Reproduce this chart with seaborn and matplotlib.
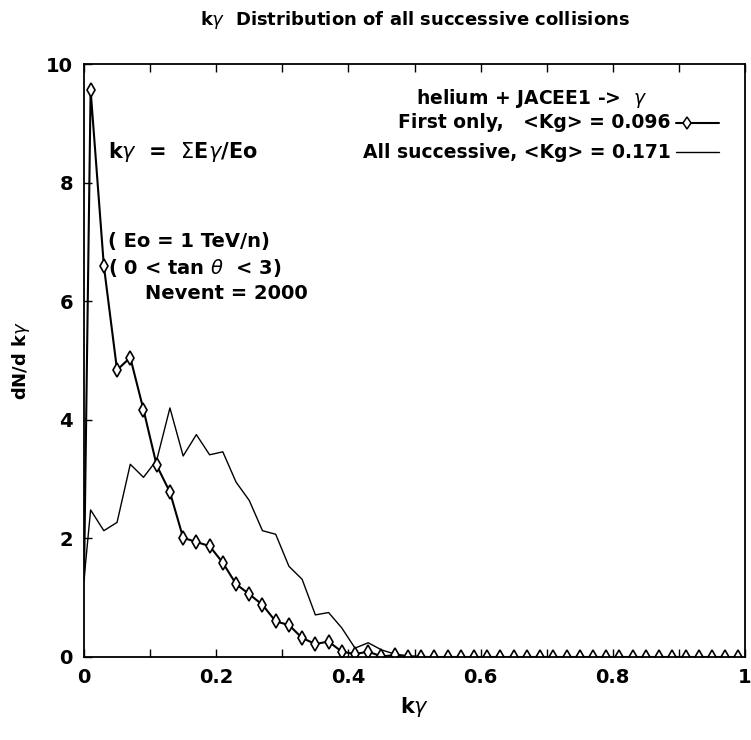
import matplotlib
matplotlib.use("Agg")
import matplotlib.pyplot as plt
import seaborn as sns
import pandas as pd
from matplotlib.ticker import MultipleLocator

# ---- data ----
k_gamma = [0.00, 0.01, 0.03, 0.05, 0.07, 0.09, 0.11, 0.13, 0.15, 0.17, 0.19,
           0.21, 0.23, 0.25, 0.27, 0.29, 0.31, 0.33, 0.35, 0.37, 0.39,
           0.41, 0.43, 0.45, 0.47, 0.49, 0.51, 0.53, 0.55, 0.57, 0.59,
           0.61, 0.63, 0.65, 0.67, 0.69, 0.71, 0.73, 0.75, 0.77, 0.79,
           0.81, 0.83, 0.85, 0.87, 0.89, 0.91, 0.93, 0.95, 0.97, 0.99]
first_only = [1.30, 9.56, 6.60, 4.84, 5.05, 4.17, 3.23, 2.78, 2.01, 1.94, 1.87,
              1.59, 1.23, 1.06, 0.88, 0.60, 0.54, 0.32, 0.22, 0.26, 0.09,
              0.05, 0.09, 0.01, 0.03, 0.00, 0.00, 0.00, 0.00, 0.00, 0.00,
              0.00, 0.00, 0.00, 0.00, 0.00, 0.00, 0.00, 0.00, 0.00, 0.00,
              0.00, 0.00, 0.00, 0.00, 0.00, 0.00, 0.00, 0.00, 0.00, 0.00]
all_successive = [1.30, 2.48, 2.13, 2.27, 3.25, 3.03, 3.32, 4.20, 3.39, 3.75, 3.41,
                  3.46, 2.95, 2.64, 2.13, 2.07, 1.53, 1.31, 0.71, 0.75, 0.49,
                  0.15, 0.24, 0.12, 0.05, 0.02, 0.01, 0.00, 0.00, 0.00, 0.00,
                  0.00, 0.00, 0.00, 0.00, 0.00, 0.00, 0.00, 0.00, 0.00, 0.00,
                  0.00, 0.00, 0.00, 0.00, 0.00, 0.00, 0.00, 0.00, 0.00, 0.00]
x_ticks = [0, 0.2, 0.4, 0.6, 0.8, 1]
x_ticklabels = ["0", "0.2", "0.4", "0.6", "0.8", "1"]
y_ticks = [0, 2, 4, 6, 8, 10]
y_ticklabels = ["0", "2", "4", "6", "8", "10"]

df = pd.DataFrame({"k": k_gamma, "first": first_only, "all": all_successive})

sns.set_style("ticks")
plt.rcParams["font.family"] = ["DejaVu Sans"]
plt.rcParams["mathtext.fontset"] = "dejavusans"
for key in ["text.color", "axes.labelcolor", "xtick.color", "ytick.color", "axes.edgecolor"]:
    plt.rcParams[key] = "black"

fig = plt.figure(figsize=(7.51, 7.40), dpi=100)
ax = fig.add_axes([84 / 751, (740 - 657) / 740, (745 - 84) / 751, (657 - 64) / 740])

sns.lineplot(data=df, x="k", y="all", ax=ax, color="black", linewidth=1.0,
             legend=False)
sns.lineplot(data=df, x="k", y="first", ax=ax, color="black", linewidth=1.5,
             marker="d", markersize=7, markerfacecolor="white",
             markeredgecolor="black", markeredgewidth=1.2,
             markevery=slice(1, None), legend=False)

ax.set_xlim(0, 1)
ax.set_ylim(0, 10)
ax.set_xticks(x_ticks)
ax.set_xticklabels(x_ticklabels, fontsize=14, fontweight="bold")
ax.set_yticks(y_ticks)
ax.set_yticklabels(y_ticklabels, fontsize=14, fontweight="bold")
ax.xaxis.set_minor_locator(MultipleLocator(0.1))
ax.tick_params(axis="x", which="both", direction="in", top=True, length=6, width=1, pad=8)
ax.tick_params(axis="y", which="both", direction="in", length=6, width=1, pad=8)
for s in ax.spines.values():
    s.set_linewidth(1.3)
    s.set_color("black")

ax.set_xlabel(r"k$\gamma$", fontsize=15, fontweight="bold", labelpad=6)
ax.set_ylabel(r"dN/d k$\gamma$", fontsize=13, fontweight="bold", labelpad=10)

fig.text(415 / 751, 1 - 20 / 740,
         r"k$\gamma$  Distribution of all successive collisions",
         ha="center", va="center", fontsize=13, fontweight="bold")

# annotations inside plot (figure pixel coords)
def ftext(x, y, s, **kw):
    fig.text(x / 751, 1 - y / 740, s, **kw)

ftext(108, 152, r"k$\gamma$  =  $\Sigma$E$\gamma$/Eo", fontsize=15, fontweight="bold", va="center")
ftext(108, 242, "( Eo = 1 TeV/n)", fontsize=14, fontweight="bold", va="center")
ftext(108, 268, r"( 0 < tan $\theta$  < 3)", fontsize=14, fontweight="bold", va="center")
ftext(145, 294, "Nevent = 2000", fontsize=14, fontweight="bold", va="center")

# legend-like block
ftext(532, 98, r"helium + JACEE1 ->  $\gamma$", fontsize=13.5, fontweight="bold",
      ha="center", va="center")
ftext(671, 123, "First only,   <Kg> = 0.096", fontsize=13.5, fontweight="bold",
      ha="right", va="center")
ftext(671, 152, "All successive, <Kg> = 0.171", fontsize=13.5, fontweight="bold",
      ha="right", va="center")

# legend samples in axes-fraction coords
def to_ax(px, py):
    return ((px - 84) / (745 - 84), (657 - py) / (657 - 64))

x1, y1 = to_ax(676, 123)
x2, _ = to_ax(719, 123)
xm, _ = to_ax(687, 123)
ax.plot([x1, x2], [y1, y1], transform=ax.transAxes, color="black", linewidth=1.5)
ax.plot([xm], [y1], transform=ax.transAxes, marker="d",
        markersize=6, markerfacecolor="white", markeredgecolor="black",
        markeredgewidth=1.1, linestyle="none")
x1b, y1b = to_ax(676, 152)
ax.plot([x1b, x2], [y1b, y1b], transform=ax.transAxes, color="black", linewidth=1.0)

fig.savefig("out.png", dpi=100, facecolor="white")
